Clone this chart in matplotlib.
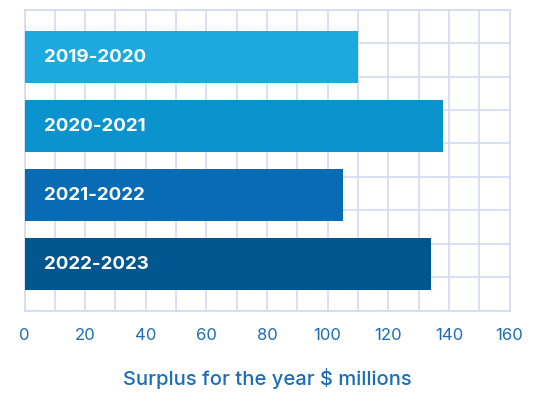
import numpy as np
import matplotlib
matplotlib.use('Agg')
import matplotlib.pyplot as plt

# data
years = ['2019-2020', '2020-2021', '2021-2022', '2022-2023']
surplus = [110, 138, 105, 134]
bar_colors = ['#1CA9E0', '#0A93CC', '#086CB4', '#02568F']
x_ticks = [0, 20, 40, 60, 80, 100, 120, 140, 160]

plt.rcParams['font.family'] = ['Inter', 'DejaVu Sans']
text_blue = '#1B6DB5'
grid_col = '#D3DAF0'

fig = plt.figure(figsize=(5.51, 3.93), dpi=100)
ax = fig.add_axes([0.0445, 0.2087, 0.8802, 0.7671])

pos = np.arange(len(years))
ax.barh(pos, surplus, height=0.764, color=bar_colors, zorder=3)

# year labels inside the bars
for p, lab in zip(pos, years):
    ax.text(6.5, p, lab, color='white', fontsize=13.5, fontweight='bold',
            va='center', ha='left', zorder=4)

ylim = (3.68, -0.69)
ax.set_ylim(ylim)
ax.set_xlim(0, 160)

# square-ish grid behind the bars
ax.set_xticks(x_ticks)
ax.set_xticklabels([str(v) for v in x_ticks])
ax.set_xticks(np.arange(10, 161, 20), minor=True)
ax.set_yticks(np.linspace(ylim[1], ylim[0], 10), minor=True)
ax.set_yticks([])
ax.grid(which='both', color=grid_col, linewidth=1.2, zorder=0)
ax.tick_params(axis='x', which='both', length=0, pad=12, labelsize=12,
               labelcolor=text_blue)
ax.tick_params(axis='y', which='both', length=0)

for s in ax.spines.values():
    s.set_color(grid_col)
    s.set_linewidth(1.2)

ax.set_xlabel('Surplus for the year $ millions', color=text_blue,
              fontsize=14.5, fontweight='medium', labelpad=18)

fig.savefig('out.png', dpi=100)
